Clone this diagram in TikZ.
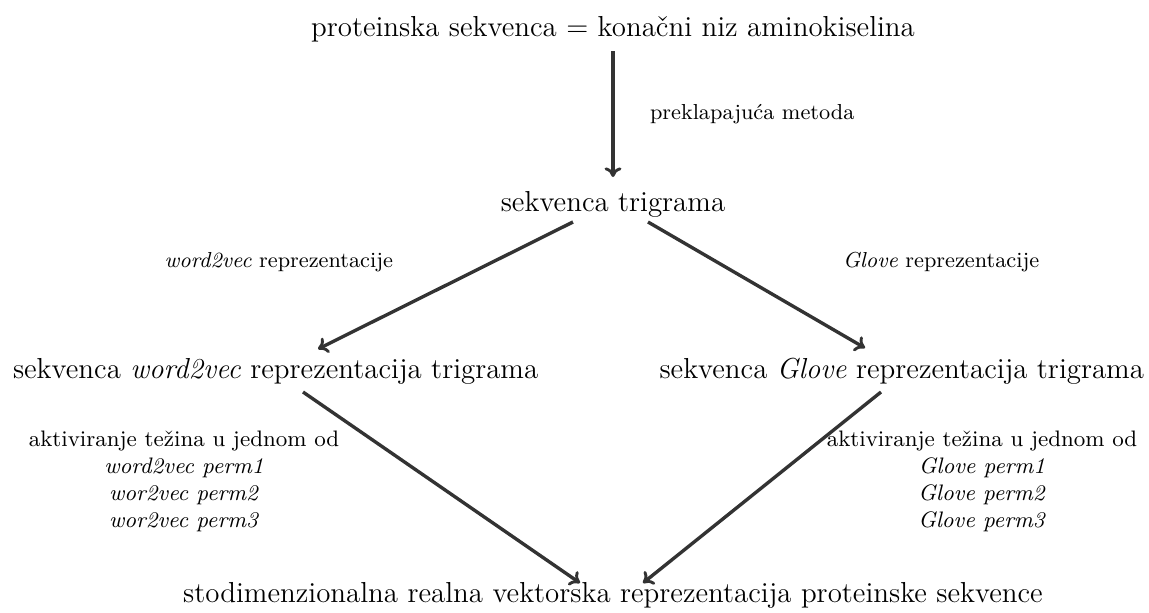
\documentclass[tikz,border=0pt]{standalone}
\usetikzlibrary{arrows.meta,calc}
\begin{document}
\begin{tikzpicture}[x=0.415pt,y=-0.415pt,
  txt/.style={inner sep=0pt,outer sep=0pt,font=\fontsize{12}{14.5}\selectfont},
  lbl/.style={inner sep=0pt,outer sep=0pt,font=\fontsize{9}{11}\selectfont},
  blk/.style={inner sep=0pt,outer sep=0pt,align=center,font=\fontsize{9.3}{11.2}\selectfont},
  flow/.style={draw=black!80,line width=1.4pt,-{To[length=4pt,width=7pt,line width=1.2pt]}}]
\useasboundingbox (0,0) rectangle (1149,612);

% text nodes
\node[txt,anchor=base] (seq) at (613,36) {proteinska sekvenca = konačni niz aminokiselina};
\node[txt,anchor=base] (tri) at (613,211) {sekvenca trigrama};
\node[txt,anchor=base west] (w2v) at (13,378) {sekvenca \textit{word2vec} reprezentacija trigrama};
\node[txt,anchor=base east] (glv) at (1144,378) {sekvenca \textit{Glove} reprezentacija trigrama};
\node[txt,anchor=base] (vec) at (613,602) {stodimenzionalna realna vektorska reprezentacija proteinske sekvence};

% edge labels
\node[lbl,anchor=west] (lov) at (650,114) {preklapajuća metoda};
\node[lbl,anchor=east] (lw) at (393,262) {\textit{word2vec} reprezentacije};
\node[lbl,anchor=west] (lg) at (843,262) {\textit{Glove} reprezentacije};
\node[blk,anchor=north] (pw) at (184,431) {aktiviranje težina u jednom od\\ \textit{word2vec perm1}\\ \textit{wor2vec perm2}\\ \textit{wor2vec perm3}};
\node[blk,anchor=north] (pg) at (982,431) {aktiviranje težina u jednom od\\ \textit{Glove perm1}\\ \textit{Glove perm2}\\ \textit{Glove perm3}};

% connectors
\draw[flow] ($(seq.base)+(0,15)$) -- ($(tri.base)+(0,-34)$);
\draw[flow] ($(tri.base)+(-40,11)$) -- ($(w2v.base west)+(305,-29)$);
\draw[flow] ($(tri.base)+(35,11)$) -- ($(glv.base east)+(-279,-30)$);
\draw[flow] ($(w2v.base west)+(290,14)$) -- ($(vec.base)+(-33,-19)$);
\draw[flow] ($(glv.base east)+(-263,14)$) -- ($(vec.base)+(30,-19)$);
\end{tikzpicture}
\end{document}
